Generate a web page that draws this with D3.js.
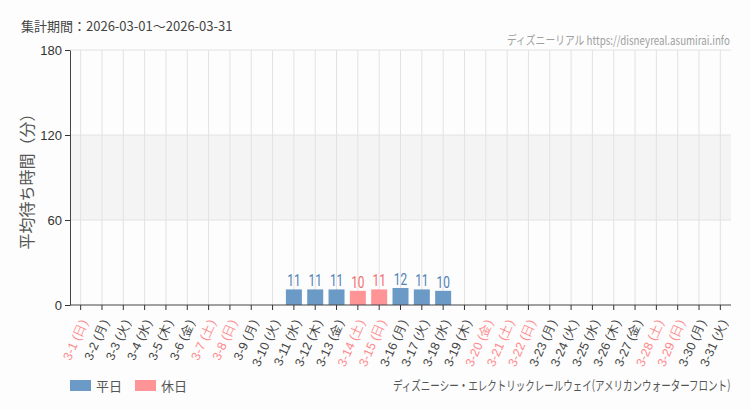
<!DOCTYPE html>
<html>
<head>
<meta charset="utf-8">
<script src="https://cdn.jsdelivr.net/npm/d3@7"></script>
<style>
  body { margin: 0; background: #fcfdfc; }
  svg { display: block; font-family: "Noto Sans CJK JP", "Noto Sans", sans-serif; }
</style>
</head>
<body>
<svg id="chart"></svg>
<script>
const days = ['3-1', '3-2', '3-3', '3-4', '3-5', '3-6', '3-7', '3-8', '3-9', '3-10',
  '3-11', '3-12', '3-13', '3-14', '3-15', '3-16', '3-17', '3-18', '3-19', '3-20',
  '3-21', '3-22', '3-23', '3-24', '3-25', '3-26', '3-27', '3-28', '3-29', '3-30', '3-31'];
const weekdays = ['日', '月', '火', '水', '木', '金', '土', '日', '月', '火',
  '水', '木', '金', '土', '日', '月', '火', '水', '木', '金',
  '土', '日', '月', '火', '水', '木', '金', '土', '日', '月', '火'];
// 1 = 休日, 0 = 平日
const holiday = [1, 0, 0, 0, 0, 0, 1, 1, 0, 0,
  0, 0, 0, 1, 1, 0, 0, 0, 0, 1,
  1, 1, 0, 0, 0, 0, 0, 1, 1, 0, 0];
const waits = [null, null, null, null, null, null, null, null, null, null,
  11, 11, 11, 10, 11, 12, 11, 10, null, null,
  null, null, null, null, null, null, null, null, null, null, null];
const yTicks = [0, 60, 120, 180];

const width = 750, height = 410;
const margin = { top: 50, right: 19, bottom: 105, left: 70 };
const blue = '#6c9ac7', pink = '#ff9497';
const blueText = '#4d80b8', pinkText = '#f26d70';

const svg = d3.select('#chart')
  .attr('width', width)
  .attr('height', height);

const rows = days.map((d, i) => ({ day: d, wd: weekdays[i], hol: holiday[i], v: waits[i] }));

const x = d3.scaleBand()
  .domain(days)
  .range([margin.left, width - margin.right])
  .paddingInner(0.25)
  .paddingOuter(0.125);

const y = d3.scaleLinear()
  .domain([0, 180])
  .range([height - margin.bottom, margin.top]);

const cx = d => x(d) + x.bandwidth() / 2;

// squeeze a text horizontally so it fits a given width
function narrow(sel, w) {
  const n = sel.node().getComputedTextLength();
  const tx = +sel.attr('x'), ty = +sel.attr('y');
  sel.attr('x', 0).attr('y', 0)
    .attr('transform', `translate(${tx},${ty}) scale(${Math.min(1, w / n)},1)`);
}

// band 60-120
svg.append('rect')
  .attr('x', margin.left)
  .attr('y', y(120))
  .attr('width', width - margin.right - margin.left)
  .attr('height', y(60) - y(120))
  .attr('fill', '#f3f4f3');

// vertical grid
svg.append('g')
  .selectAll('line')
  .data(days)
  .join('line')
  .attr('x1', d => cx(d)).attr('x2', d => cx(d))
  .attr('y1', y(180)).attr('y2', y(0))
  .attr('stroke', '#e2e2e2');

// horizontal grid
svg.append('g')
  .selectAll('line')
  .data(yTicks.filter(t => t > 0))
  .join('line')
  .attr('x1', margin.left).attr('x2', width - margin.right)
  .attr('y1', d => y(d)).attr('y2', d => y(d))
  .attr('stroke', '#e2e2e2');

// bars
const withVal = rows.filter(r => r.v != null);
svg.append('g')
  .selectAll('rect')
  .data(withVal)
  .join('rect')
  .attr('x', r => x(r.day))
  .attr('y', r => y(r.v))
  .attr('width', x.bandwidth())
  .attr('height', r => y(0) - y(r.v))
  .attr('fill', r => r.hol ? pink : blue);

// value labels (narrow face faked with scaleX)
svg.append('g')
  .selectAll('text')
  .data(withVal)
  .join('text')
  .attr('transform', r => `translate(${cx(r.day)},${y(r.v) - 3}) scale(0.74,1)`)
  .attr('text-anchor', 'middle')
  .attr('font-family', '"Roboto", "Liberation Sans", sans-serif')
  .attr('font-size', 16)
  .attr('fill', r => r.hol ? pinkText : blueText)
  .text(r => r.v);

// y axis
const yAxis = svg.append('g')
  .attr('transform', `translate(${margin.left},0)`)
  .call(d3.axisLeft(y).tickValues(yTicks).tickSize(5).tickSizeOuter(0));
yAxis.select('.domain').attr('stroke', '#444');
yAxis.selectAll('.tick line').attr('stroke', '#333');
yAxis.selectAll('.tick text')
  .attr('font-family', '"Liberation Sans", sans-serif')
  .attr('font-size', 13)
  .attr('fill', '#333');

// x axis
const xAxis = svg.append('g')
  .attr('transform', `translate(0,${y(0)})`)
  .call(d3.axisBottom(x).tickSize(5).tickSizeOuter(0));
xAxis.select('.domain').attr('stroke', '#444').attr('d', `M${margin.left},0H${width - margin.right}`);
xAxis.selectAll('.tick line').attr('stroke', '#333');
xAxis.selectAll('.tick text')
  .text((d, i) => `${d} (${weekdays[i]})`)
  .attr('font-size', 12.5)
  .attr('fill', (d, i) => holiday[i] ? '#ff8a8d' : '#444')
  .attr('text-anchor', 'end')
  .attr('dy', '0.35em')
  .attr('transform', 'translate(-4,12) rotate(-66)');

// y title
svg.append('text')
  .attr('transform', `translate(33,${(y(0) + y(180)) / 2}) rotate(-90)`)
  .attr('text-anchor', 'middle')
  .attr('font-size', 16)
  .attr('fill', '#555')
  .text('平均待ち時間（分）');

// header
svg.append('text')
  .attr('x', 21).attr('y', 31)
  .attr('font-size', 13)
  .attr('fill', '#444')
  .text('集計期間：2026-03-01〜2026-03-31');

svg.append('text')
  .attr('x', 507).attr('y', 45)
  .attr('font-size', 12)
  .attr('fill', '#a0a0a0')
  .text('ディズニーリアル https://disneyreal.asumirai.info')
  .call(narrow, 223);

// legend
const legendItems = [{ label: '平日', color: blue, x: 70 }, { label: '休日', color: pink, x: 135 }];
const lg = svg.append('g');
lg.selectAll('rect')
  .data(legendItems)
  .join('rect')
  .attr('x', d => d.x).attr('y', 380)
  .attr('width', 21).attr('height', 11)
  .attr('fill', d => d.color);
lg.selectAll('text')
  .data(legendItems)
  .join('text')
  .attr('x', d => d.x + 26).attr('y', 390.5)
  .attr('font-size', 13)
  .attr('fill', '#555')
  .text(d => d.label);

svg.append('text')
  .attr('x', 393).attr('y', 390)
  .attr('font-size', 13)
  .attr('fill', '#555')
  .text('ディズニーシー・エレクトリックレールウェイ(アメリカンウォーターフロント)')
  .call(narrow, 338);
</script>
</body>
</html>
